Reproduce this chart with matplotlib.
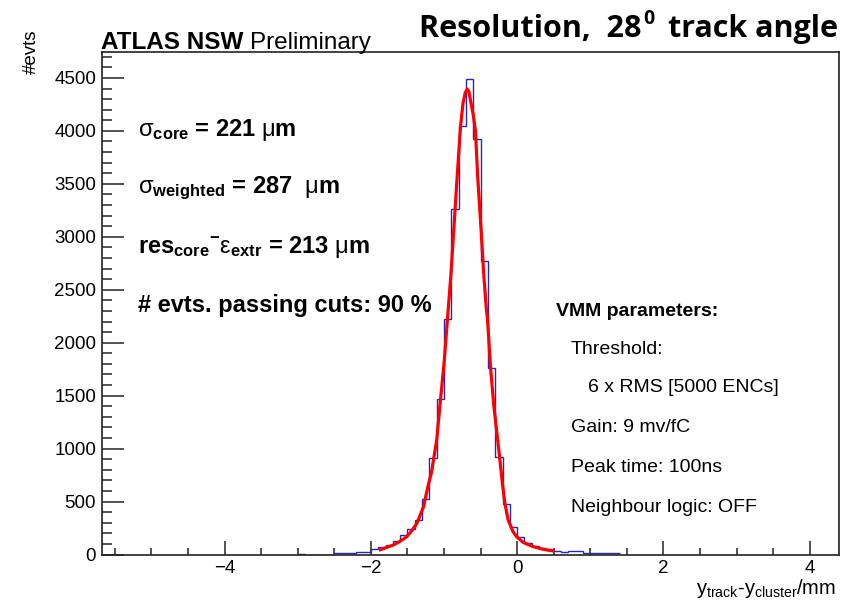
import numpy as np
import matplotlib
matplotlib.use('Agg')
import matplotlib.pyplot as plt
from matplotlib.ticker import MultipleLocator

# histogram: 0.1 mm bins, lower edges from -3.0 to 1.3
bin_lo = -3.0
bin_w = 0.1
counts = [8, 0, 0, 0, 0, 10, 10, 12, 25, 25,
          52, 68, 90, 131, 184, 238, 326, 522, 909, 1470,
          2223, 3265, 4043, 4491, 3927, 2767, 1760, 918, 477, 257,
          168, 112, 80, 58, 42, 30, 28, 32, 30, 12,
          10, 10, 10, 10]

# fit curve
fit_x = [-1.87, -1.78, -1.69, -1.60, -1.51, -1.44, -1.37, -1.28, -1.22, -1.17,
         -1.10, -1.047, -1.00, -0.95, -0.905, -0.87, -0.82, -0.774, -0.74, -0.71,
         -0.683, -0.66, -0.64, -0.60, -0.57, -0.54, -0.496, -0.455, -0.42, -0.405,
         -0.363, -0.318, -0.245, -0.20, -0.168, -0.123, -0.06, -0.008, 0.08, 0.22,
         0.35, 0.47, 0.49]
fit_y = [45, 68, 90, 125, 168, 225, 295, 452, 641, 780,
         1082, 1470, 1800, 2250, 2650, 3030, 3570, 4043, 4264, 4360,
         4396, 4370, 4295, 4150, 4000, 3570, 3098, 2625, 2310, 2216,
         1760, 1397, 950, 660, 484, 326, 220, 168, 115, 74,
         50, 36, 34]

stats_lines = [r'$\sigma_{\mathbf{core}}$ = 221 $\mu$m',
               r'$\sigma_{\mathbf{weighted}}$ = 287  $\mu$m',
               r'res$_{\mathbf{core}}$$^{\mathbf{-}}$$\epsilon_{\mathbf{extr}}$ = 213 $\mu$m',
               '# evts. passing cuts: 90 %']
vmm_lines = ['VMM parameters:', 'Threshold:', '6 x RMS [5000 ENCs]',
             'Gain: 9 mv/fC', 'Peak time: 100ns', 'Neighbour logic: OFF']

W, H = 852, 601

plt.rcParams['font.family'] = ['Liberation Sans', 'DejaVu Sans']
plt.rcParams['mathtext.fontset'] = 'custom'
plt.rcParams['mathtext.rm'] = 'Liberation Sans'
plt.rcParams['mathtext.bf'] = 'Liberation Sans:bold'
plt.rcParams['mathtext.it'] = 'Liberation Sans:italic'
plt.rcParams['mathtext.default'] = 'rm'


def px(x, y):
    # pixel position (from top-left) -> figure fraction
    return x / W, 1 - y / H


fig = plt.figure(figsize=(W / 100, H / 100), dpi=100)
x0, y0 = px(101.7, 554.5)
x1, y1 = px(839, 52)
ax = fig.add_axes([x0, y0, x1 - x0, y1 - y0])

edges = bin_lo + bin_w * np.arange(len(counts) + 1)
ax.stairs(counts, edges, color='#2626c8', linewidth=1.0, baseline=None, zorder=2)
ax.plot(fit_x, fit_y, color='#ff0000', linewidth=2.3, zorder=3)

ax.set_xlim(-5.68, 4.40)
ax.set_ylim(0, 4745)

ax.xaxis.set_major_locator(MultipleLocator(2))
ax.xaxis.set_minor_locator(MultipleLocator(0.5))
ax.yaxis.set_major_locator(MultipleLocator(500))
ax.yaxis.set_minor_locator(MultipleLocator(100))
ax.tick_params(axis='both', which='both', direction='in', colors='#222222',
               labelcolor='black', labelsize=13.5, width=1.1)
ax.tick_params(axis='x', which='major', length=10, pad=4)
ax.tick_params(axis='x', which='minor', length=5)
ax.tick_params(axis='y', which='major', length=15.5, pad=4)
ax.tick_params(axis='y', which='minor', length=7.5)
for s in ax.spines.values():
    s.set_color('#222222')
    s.set_linewidth(1.2)

# axis titles
fig.text(*px(31, 30), '#evts', rotation=90, ha='center', va='top', fontsize=13.5)
fig.text(*px(836, 594), r'$\mathrm{y_{track}}$-$\mathrm{y_{cluster}}$/mm',
         ha='right', va='baseline', fontsize=14.5)

# labels on top
t = fig.text(*px(101, 49), 'ATLAS NSW', fontsize=17.5, fontweight='bold',
             ha='left', va='baseline')
fig.canvas.draw()
r = fig.canvas.get_renderer()
bb = t.get_window_extent(r)
fig.text((bb.x1 + 7) / W, 1 - 49 / H, 'Preliminary', fontsize=17.5,
         ha='left', va='baseline')

tt = fig.text(*px(419, 37), 'Resolution,  28', fontsize=22, fontweight='bold',
              family='Open Sans', ha='left', va='baseline')
bb = tt.get_window_extent(r)
ts = fig.text((bb.x1 + 2) / W, 1 - 24 / H, '0', fontsize=14, fontweight='bold',
              family='Open Sans', ha='left', va='baseline')
bb = ts.get_window_extent(r)
fig.text((bb.x1 + 13) / W, 1 - 37 / H, 'track angle', fontsize=22,
         fontweight='bold', family='Open Sans', ha='left', va='baseline')

# fit results
for i, line in enumerate(stats_lines):
    fig.text(*px(138, 130 + 58.5 * i), line, fontsize=17, fontweight='bold',
             ha='left', va='center')

# VMM settings
vmm_x = [556, 571, 588, 571, 571, 571]
vmm_y = [311, 350, 387, 427, 468, 508]
for i, line in enumerate(vmm_lines):
    fig.text(*px(vmm_x[i], vmm_y[i]), line, fontsize=14,
             fontweight='bold' if i == 0 else 'normal', ha='left', va='center')

fig.savefig('out.png', dpi=100)
